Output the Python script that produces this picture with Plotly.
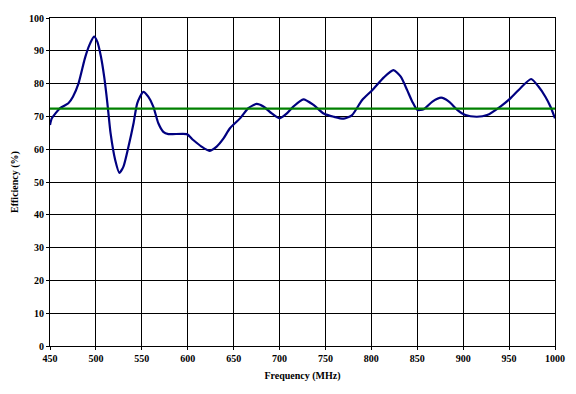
import plotly.graph_objects as go

freq = [450, 452, 461, 470, 475, 481, 488, 493, 498, 501.5, 505.5, 509, 512.5, 516, 521, 525.5,
        530, 535.5, 541, 545, 551.6, 557, 562.5, 568, 573.4, 579, 599, 606, 615, 623.5, 631.5,
        639, 646, 657, 666, 675, 682.4, 691.5, 700, 708, 715, 726, 737, 748, 759, 770, 779,
        790, 801, 813.6, 824, 832, 839, 844.6, 850, 857, 866.5, 876, 884.5, 893.5, 902.5,
        915, 926, 940.5, 951.4, 962.3, 974, 982, 989.5, 995, 1000]
efficiency = [67.4, 69.4, 72.5, 74.0, 76.0, 80.0, 87.7, 91.8, 94.3, 92.8, 88.2, 82.1, 74.0, 64.8,
              56.7, 52.8, 54.7, 60.8, 67.9, 74.0, 77.5, 76.0, 73.0, 67.9, 65.3, 64.6, 64.6, 62.8,
              60.8, 59.5, 60.8, 63.3, 66.4, 69.4, 72.5, 73.8, 73.0, 70.9, 69.4, 70.9, 73.0, 75.2,
              73.5, 70.9, 69.9, 69.3, 70.4, 75.0, 78.0, 81.9, 84.1, 82.1, 78.0, 74.5, 72.0, 72.2,
              74.5, 75.7, 74.5, 72.0, 70.4, 69.9, 70.4, 73.0, 75.5, 78.6, 81.4, 79.1, 76.0, 73.0, 69.4]
average_efficiency = 72.4

x_ticks = [450, 500, 550, 600, 650, 700, 750, 800, 850, 900, 950, 1000]
y_ticks = [0, 10, 20, 30, 40, 50, 60, 70, 80, 90, 100]

fig = go.Figure()
fig.add_trace(go.Scatter(
    x=freq, y=efficiency, mode="lines",
    line=dict(color="#000080", width=2.2, shape="spline", smoothing=0.6),
    showlegend=False, hoverinfo="skip"))
fig.add_trace(go.Scatter(
    x=[x_ticks[0], x_ticks[-1]], y=[average_efficiency, average_efficiency], mode="lines",
    line=dict(color="#008000", width=2.2), showlegend=False, hoverinfo="skip"))

font = dict(family="Liberation Serif, Times New Roman, serif", size=10, color="black")

fig.update_layout(
    width=576, height=394,
    margin=dict(l=50, r=21, t=18, b=48),
    paper_bgcolor="white", plot_bgcolor="white",
    font=font,
    xaxis=dict(
        range=[450, 1000], tickvals=x_ticks, ticktext=[f"<b>{v}</b>" for v in x_ticks],
        showgrid=True, gridcolor="black", gridwidth=1,
        showline=True, linecolor="black", linewidth=1, mirror=True,
        ticks="outside", ticklen=3, tickcolor="black", zeroline=False,
        title=dict(text="<b>Frequency (MHz)</b>", font=font, standoff=8)),
    yaxis=dict(
        range=[0, 100], tickvals=y_ticks, ticktext=[f"<b>{v}</b>" for v in y_ticks],
        showgrid=True, gridcolor="black", gridwidth=1,
        showline=True, linecolor="black", linewidth=1, mirror=True,
        ticks="outside", ticklen=3, tickcolor="black", zeroline=False,
        title=dict(text="<b>Efficiency (%)</b>", font=font, standoff=8)),
)

fig.write_html("out.html")
